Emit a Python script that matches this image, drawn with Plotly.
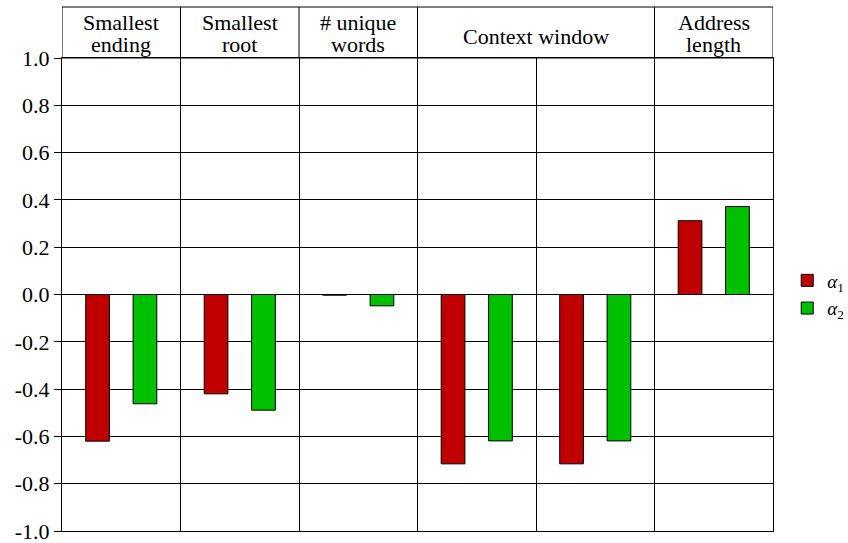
import plotly.graph_objects as go

# ---- data ----
categories = ["Smallest ending", "Smallest root", "# unique words",
              "Context window", "Context window", "Address length"]
alpha1 = [-0.62, -0.42, -0.003, -0.716, -0.716, 0.312]
alpha2 = [-0.462, -0.489, -0.048, -0.619, -0.619, 0.372]
series_names = ["<i>α</i><sub>1</sub>", "<i>α</i><sub>2</sub>"]
header_lines = [["Smallest", "ending"], ["Smallest", "root"], ["# unique", "words"],
                ["Context window"], ["Address", "length"]]
header_spans = [(0, 0), (1, 1), (2, 2), (3, 4), (5, 5)]
y_ticks = [-1.0, -0.8, -0.6, -0.4, -0.2, 0.0, 0.2, 0.4, 0.6, 0.8, 1.0]
y_ticktext = ["-1.0", "-0.8", "-0.6", "-0.4", "-0.2", "0.0", "0.2", "0.4", "0.6", "0.8", "1.0"]

FONT = "Liberation Serif, Times New Roman, DejaVu Serif, serif"
RED = "#C00000"
GREEN = "#00C000"

idx = list(range(len(categories)))
fig = go.Figure()
fig.add_trace(go.Bar(x=[i - 0.2 for i in idx], y=alpha1, width=0.2, name=series_names[0],
                     marker=dict(color=RED, line=dict(color="black", width=1)),
                     hovertext=categories))
fig.add_trace(go.Bar(x=[i + 0.2 for i in idx], y=alpha2, width=0.2, name=series_names[1],
                     marker=dict(color=GREEN, line=dict(color="black", width=1)),
                     hovertext=categories))

H = 51 / 473  # header height in paper units
shapes = [dict(type="rect", xref="x", yref="paper", x0=-0.5, x1=len(categories) - 0.5,
               y0=1, y1=1 + H, line=dict(color="black", width=1))]
annotations = []
for lines, (a, b) in zip(header_lines, header_spans):
    if a > 0:
        shapes.append(dict(type="line", xref="x", yref="paper", x0=a - 0.5, x1=a - 0.5,
                           y0=1, y1=1 + H, line=dict(color="black", width=1)))
    xc = (a + b) / 2
    if len(lines) == 2:
        ys = [1 + H * 0.70, 1 + H * 0.26]
    else:
        ys = [1 + H * 0.42]
    for t, yy in zip(lines, ys):
        annotations.append(dict(text=t, x=xc, y=yy, xref="x", yref="paper",
                                showarrow=False, xanchor="center", yanchor="middle",
                                font=dict(family=FONT, size=22, color="black")))

fig.update_layout(
    width=848, height=543,
    margin=dict(l=62, r=75, t=58, b=12, autoexpand=False),
    plot_bgcolor="white", paper_bgcolor="white",
    barmode="overlay",
    shapes=shapes, annotations=annotations,
    showlegend=True,
    legend=dict(x=1.02, y=0.5, xanchor="left", yanchor="middle",
                font=dict(family=FONT, size=19, color="black"),
                bgcolor="rgba(0,0,0,0)", tracegroupgap=0),
    xaxis=dict(range=[-0.5, len(categories) - 0.5], tickvals=[i + 0.5 for i in idx[:-1]],
               showticklabels=False, ticks="", showgrid=True, gridcolor="black", gridwidth=1,
               showline=True, linecolor="black", linewidth=1, mirror=True, zeroline=False,
               fixedrange=True),
    yaxis=dict(range=[-1, 1], tickvals=y_ticks, ticktext=y_ticktext,
               ticks="outside", ticklen=7, tickcolor="black", tickwidth=1,
               ticklabeloverflow="allow",
               showgrid=True, gridcolor="black", gridwidth=1, zeroline=False,
               showline=True, linecolor="black", linewidth=1, mirror=True,
               tickfont=dict(family=FONT, size=22, color="black"), fixedrange=True),
    font=dict(family=FONT, color="black"),
)

fig.write_html("out.html")
